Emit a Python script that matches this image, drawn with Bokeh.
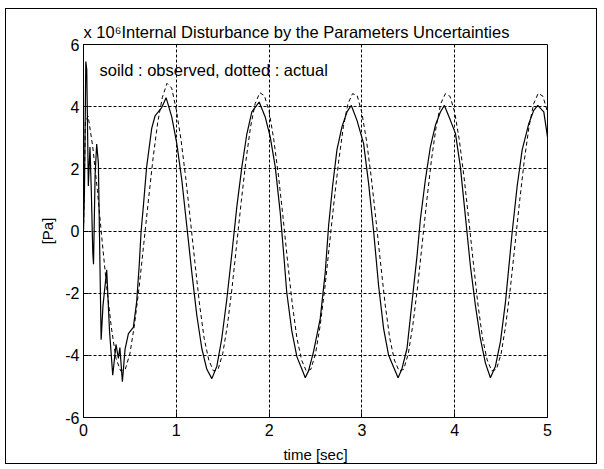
from bokeh.plotting import figure
from bokeh.models import Label, FixedTicker, Range1d, Title
from bokeh.embed import file_html
from bokeh.resources import INLINE

# observed (solid) disturbance, x 10^6 Pa
obs_t = [0.000, 0.010, 0.025, 0.035, 0.052, 0.070, 0.085, 0.100, 0.108, 0.125,
         0.142, 0.160, 0.190, 0.210, 0.250, 0.280, 0.315, 0.350, 0.376, 0.392,
         0.419, 0.448, 0.484, 0.537, 0.573, 0.600, 0.620, 0.645, 0.680, 0.735,
         0.771, 0.843, 0.890, 0.951, 1.005, 1.059, 1.113, 1.167, 1.221, 1.275,
         1.329, 1.383, 1.437, 1.490, 1.545, 1.600, 1.653, 1.707, 1.760, 1.814,
         1.893, 1.958, 2.012, 2.066, 2.120, 2.156, 2.190, 2.246, 2.300, 2.354,
         2.390, 2.425, 2.479, 2.551, 2.605, 2.641, 2.684, 2.731, 2.785, 2.839,
         2.886, 2.947, 3.018, 3.072, 3.126, 3.180, 3.234, 3.288, 3.342, 3.390,
         3.430, 3.486, 3.540, 3.594, 3.630, 3.684, 3.738, 3.792, 3.846, 3.889,
         3.954, 4.008, 4.061, 4.115, 4.169, 4.223, 4.277, 4.331, 4.385, 4.439,
         4.493, 4.547, 4.619, 4.673, 4.727, 4.799, 4.852, 4.895, 4.960, 5.000]
obs_v = [0.0, 1.2, 5.45, 5.2, 1.45, 2.7, 1.2, -0.7, -1.07, 1.8,
         2.8, 2.2, -3.5, -2.4, -1.25, -3.2, -4.64, -3.65, -4.1, -3.75,
         -4.85, -3.8, -3.3, -3.1, -2.28, -1.12, -0.04, 0.8, 2.05, 3.3,
         3.7, 3.97, 4.29, 3.67, 2.82, 1.65, 0.16, -1.33, -2.71, -3.78,
         -4.45, -4.75, -4.35, -3.46, -2.18, -0.69, 0.8, 2.07, 3.12, 3.83,
         4.15, 3.67, 3.03, 2.07, 0.59, -0.69, -1.97, -3.24, -4.05, -4.45,
         -4.72, -4.5, -3.88, -2.82, -1.33, 0.16, 1.44, 2.61, 3.35, 3.83,
         4.04, 3.56, 2.82, 1.54, 0.0, -1.76, -3.14, -4.0, -4.38, -4.72,
         -4.45, -3.78, -2.29, -0.8, 0.37, 1.65, 2.71, 3.4, 3.83, 4.04,
         3.56, 3.14, 2.07, 0.48, -1.12, -2.39, -3.46, -4.25, -4.72, -4.35,
         -3.56, -2.29, -0.05, 1.44, 2.61, 3.46, 3.88, 4.04, 3.83, 3.03]

# actual (dotted) disturbance, x 10^6 Pa
act_t = [0.00, 0.02, 0.05, 0.10, 0.15, 0.20, 0.25, 0.30, 0.35, 0.40,
         0.45, 0.50, 0.55, 0.60, 0.65, 0.70, 0.75, 0.80, 0.85, 0.90,
         0.95, 1.00, 1.05, 1.10, 1.15, 1.20, 1.25, 1.30, 1.35, 1.40,
         1.45, 1.50, 1.55, 1.60, 1.65, 1.70, 1.75, 1.80, 1.85, 1.90,
         1.95, 2.00, 2.05, 2.10, 2.15, 2.20, 2.25, 2.30, 2.35, 2.40,
         2.45, 2.50, 2.55, 2.60, 2.65, 2.70, 2.75, 2.80, 2.85, 2.90,
         2.95, 3.00, 3.05, 3.10, 3.15, 3.20, 3.25, 3.30, 3.35, 3.40,
         3.45, 3.50, 3.55, 3.60, 3.65, 3.70, 3.75, 3.80, 3.85, 3.90,
         3.95, 4.00, 4.05, 4.10, 4.15, 4.20, 4.25, 4.30, 4.35, 4.40,
         4.45, 4.50, 4.55, 4.60, 4.65, 4.70, 4.75, 4.80, 4.85, 4.90,
         4.95, 5.00]
act_v = [0.0, 3.5, 3.7, 2.7, 1.3, -0.3, -1.8, -3.1, -4.1, -4.5,
         -4.45, -3.95, -3.0, -1.8, -0.4, 1.0, 2.35, 3.5, 4.3, 4.75,
         4.6, 3.9, 2.95, 1.75, 0.4, -1.0, -2.35, -3.45, -4.15, -4.5,
         -4.45, -3.95, -3.05, -1.85, -0.45, 0.95, 2.25, 3.35, 4.1, 4.45,
         4.35, 3.85, 2.95, 1.8, 0.45, -1.0, -2.35, -3.45, -4.15, -4.5,
         -4.45, -3.95, -3.05, -1.85, -0.45, 0.95, 2.25, 3.35, 4.1, 4.42,
         4.35, 3.8, 2.9, 1.75, 0.4, -1.0, -2.35, -3.45, -4.15, -4.5,
         -4.45, -3.95, -3.0, -1.8, -0.4, 1.0, 2.3, 3.35, 4.1, 4.42,
         4.33, 3.82, 2.92, 1.75, 0.4, -1.0, -2.35, -3.45, -4.15, -4.5,
         -4.45, -3.95, -3.03, -1.83, -0.43, 0.97, 2.27, 3.34, 4.09, 4.43,
         4.34, 3.83]

x_ticks = [0, 1, 2, 3, 4, 5]
y_ticks = [-6, -4, -2, 0, 2, 4, 6]
y_tick_labels = ["-6", "-4", "-2", "0", "2", "4", "6"]
title_text = "x 10\u2076Internal Disturbance by the Parameters Uncertainties"
legend_text = "soild : observed, dotted : actual"

FONT = "Liberation Sans"

p = figure(width=592, height=456,
           x_range=Range1d(0, 5), y_range=Range1d(-6, 6),
           output_backend="svg", toolbar_location=None,
           min_border_left=77, min_border_right=51,
           min_border_top=35, min_border_bottom=45)
p.title = Title(text=title_text, align="left", offset=0, standoff=7,
                text_font=FONT, text_font_size="16.5px", text_font_style="normal",
                text_color="black")
p.styles = {"border": "1px solid black", "margin-left": "5px", "margin-top": "8px"}
p.background_fill_color = "white"
p.border_fill_color = "white"
p.outline_line_color = "black"
p.outline_line_alpha = 1.0
p.outline_line_width = 1

for ax in (p.xaxis[0], p.yaxis[0]):
    ax.major_tick_in = 5
    ax.major_tick_out = 0
    ax.minor_tick_in = 0
    ax.minor_tick_out = 0
    ax.axis_line_color = "black"
    ax.major_tick_line_color = "black"
    ax.major_label_text_font = FONT
    ax.major_label_text_font_size = "16px"
    ax.major_label_text_color = "black"
    ax.axis_label_text_font = FONT
    ax.axis_label_text_font_size = "15px"
    ax.axis_label_text_font_style = "normal"
    ax.axis_label_text_color = "black"

p.xaxis.ticker = FixedTicker(ticks=x_ticks)
p.yaxis.ticker = FixedTicker(ticks=y_ticks)
p.yaxis.major_label_overrides = {t: s for t, s in zip(y_ticks, y_tick_labels)}
p.xaxis.axis_label = "time [sec]"
p.yaxis.axis_label = "[Pa]"
p.xaxis.major_label_standoff = 6
p.yaxis.major_label_standoff = 4
p.xaxis.axis_label_standoff = 7
p.yaxis.axis_label_standoff = 6

for g in (p.xgrid[0], p.ygrid[0]):
    g.grid_line_color = "black"
    g.grid_line_alpha = 1.0
    g.grid_line_width = 1
    g.grid_line_dash = "3 2"
p.xgrid.ticker = FixedTicker(ticks=x_ticks[1:-1])
p.ygrid.ticker = FixedTicker(ticks=y_ticks[1:-1])

p.line(act_t, act_v, line_color="black", line_width=1, line_dash="4 3")
p.line(obs_t, obs_v, line_color="black", line_width=1.2)

p.add_layout(Label(x=16, y=348, x_units="screen", y_units="screen",
                   text=legend_text,
                   text_font=FONT, text_font_size="16.5px", text_baseline="alphabetic",
                   text_color="black"))

open("out.html", "w").write(file_html(p, INLINE))
